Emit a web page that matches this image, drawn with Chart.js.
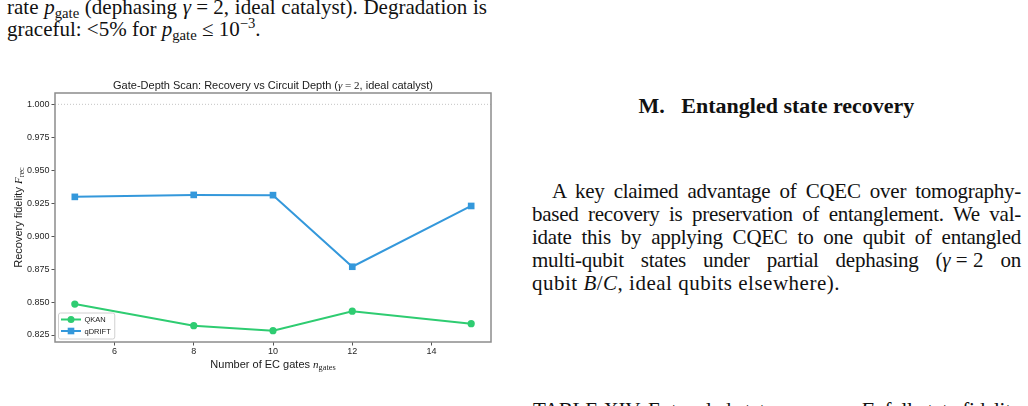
<!DOCTYPE html>
<html>
<head>
<meta charset="utf-8">
<script src="https://cdn.jsdelivr.net/npm/chart.js@4.4.1/dist/chart.umd.min.js"></script>
<style>
  html, body { margin: 0; padding: 0; background: #fff; }
  body { width: 1028px; height: 406px; overflow: hidden; position: relative;
         font-family: "Liberation Serif", "DejaVu Serif", serif; color: #111; }
  .ln { position: absolute; font-size: 21px; line-height: 23px; white-space: nowrap; }
  .lc { line-height: 21px; }
  .just { text-align: justify; text-align-last: justify; white-space: normal; }
  .tight { letter-spacing: -0.25px; }
  .ln sub, .ln sup { font-size: 70%; line-height: 0; }
  .ln sub { vertical-align: -0.25em; }
  .ln sup { vertical-align: 0.55em; }
  .m { display: inline-block; white-space: nowrap; letter-spacing: 0; }
  .hd { font-size: 22px; font-weight: bold; text-align: center; }
  #chartBox { position: absolute; left: 0; top: 70px; width: 500px; height: 310px; }
</style>
</head>
<body>

<!-- left column text above the figure -->
<div class="ln lc just" style="left:7px; top:-3px; width:480px;">rate <i>p</i><sub>gate</sub> (dephasing <span class="m"><i>γ</i> = 2,</span> ideal catalyst). Degradation is</div>
<div class="ln lc" style="left:7px; top:19px;">graceful: &lt;5% for <i>p</i><sub>gate</sub> ≤ 10<sup>−3</sup>.</div>

<!-- right column -->
<div class="ln hd" style="left:532px; top:94px; width:489px;">M.&nbsp;&nbsp;&nbsp;Entangled state recovery</div>
<div class="ln just tight" style="left:552px; top:179.5px; width:469px;">A key claimed advantage of CQEC over tomography-</div>
<div class="ln just tight" style="left:532px; top:203px; width:489px;">based recovery is preservation of entanglement. We val-</div>
<div class="ln just tight" style="left:532px; top:226px; width:489px;">idate this by applying CQEC to one qubit of entangled</div>
<div class="ln just tight" style="left:532px; top:249px; width:489px;">multi-qubit states under partial dephasing (<span class="m"><i>γ</i> = 2</span> on</div>
<div class="ln" style="left:532px; top:272px; letter-spacing:0.5px;">qubit <i>B</i>/<i>C</i>, ideal qubits elsewhere).</div>
<div class="ln just tight" style="left:533px; top:399px; width:488px;">TABLE XIV. Entangled state recovery. <i>F</i>: full-state fidelity</div>

<div id="chartBox"><canvas id="gateChart" width="500" height="310"></canvas></div>

<script>
// gate-depth scan values
const nGates = [5, 8, 10, 12, 15];
const qkanFid = [0.8485, 0.8321, 0.8283, 0.8431, 0.8336];
const qdriftFid = [0.9298, 0.9313, 0.9311, 0.8768, 0.9229];

const xTicks = [6, 8, 10, 12, 14];
const yTicks = [0.825, 0.850, 0.875, 0.900, 0.925, 0.950, 0.975, 1.000];
const xRange = [4.5, 15.5];
const yRange = [0.8197, 1.0086];
const refLevel = 1.0;

const seriesNames = ['QKAN', 'qDRIFT'];
const seriesColors = ['#2ecc71', '#3498db'];

const SANS = '"Liberation Sans", Arial, sans-serif';
const SERIF = '"Liberation Serif", "DejaVu Serif", serif';

// draws text made of parts with different fonts (for the math bits)
function drawRich(ctx, parts, x, y, size) {
    const fontFor = (kind) => {
        if (kind === 'it') return `italic ${size}px ${SERIF}`;
        if (kind === 'rm') return `${size}px ${SERIF}`;
        if (kind === 'sub') return `${(size * 0.75).toFixed(1)}px ${SERIF}`;
        return `${size}px ${SANS}`;
    };
    let total = 0;
    parts.forEach(([t, k]) => { ctx.font = fontFor(k); total += ctx.measureText(t).width; });
    let cx = x - total / 2;
    ctx.textAlign = 'left';
    ctx.textBaseline = 'alphabetic';
    parts.forEach(([t, k]) => {
        ctx.font = fontFor(k);
        ctx.fillText(t, cx, k === 'sub' ? y + size * 0.22 : y);
        cx += ctx.measureText(t).width;
    });
}

const decorations = {
    id: 'decorations',
    afterDraw(chart) {
        const { ctx, chartArea: a } = chart;
        ctx.save();

        // frame on all four sides
        ctx.strokeStyle = '#8c8c8c';
        ctx.lineWidth = 1.5;
        ctx.strokeRect(a.left, a.top, a.right - a.left, a.bottom - a.top);

        ctx.fillStyle = '#1a1a1a';
        const midX = (a.left + a.right) / 2;
        drawRich(ctx, [['Gate-Depth Scan: Recovery vs Circuit Depth (', 's'], ['γ', 'it'], [' = 2', 'rm'], [', ideal catalyst)', 's']], midX, 19, 11);
        drawRich(ctx, [['Number of EC gates ', 's'], ['n', 'it'], ['gates', 'sub']], midX, 298, 11);

        ctx.save();
        ctx.translate(21.5, (a.top + a.bottom) / 2);
        ctx.rotate(-Math.PI / 2);
        drawRich(ctx, [['Recovery fidelity ', 's'], ['F', 'it'], ['rec', 'sub']], 0, 0, 11);
        ctx.restore();

        // legend, lower left inside the axes
        ctx.font = `7.5px ${SANS}`;
        const textW = Math.max(...seriesNames.map(n => ctx.measureText(n).width));
        const bx = a.left + 3.5, bw = 26 + textW + 4, bh = 26, by = a.bottom - 3 - bh;
        ctx.fillStyle = 'rgba(255,255,255,0.85)';
        ctx.strokeStyle = '#d0d0d0';
        ctx.lineWidth = 1;
        ctx.beginPath();
        ctx.roundRect(bx, by, bw, bh, 2);
        ctx.fill();
        ctx.stroke();

        seriesNames.forEach((name, i) => {
            const ry = by + 6.5 + i * 11.5;
            ctx.strokeStyle = seriesColors[i];
            ctx.lineWidth = 2;
            ctx.beginPath();
            ctx.moveTo(bx + 2.5, ry);
            ctx.lineTo(bx + 22.5, ry);
            ctx.stroke();
            ctx.fillStyle = seriesColors[i];
            if (i === 0) {
                ctx.beginPath();
                ctx.arc(bx + 12.5, ry, 3.5, 0, Math.PI * 2);
                ctx.fill();
            } else {
                ctx.fillRect(bx + 12.5 - 3.3, ry - 3.3, 6.6, 6.6);
            }
            ctx.fillStyle = '#1a1a1a';
            ctx.textBaseline = 'middle';
            ctx.fillText(name, bx + 26, ry + 0.5);
        });

        ctx.restore();
    }
};

const toPoints = (ys) => nGates.map((x, i) => ({ x: x, y: ys[i] }));

new Chart(document.getElementById('gateChart'), {
    type: 'line',
    data: {
        datasets: [
            {
                label: 'ref',
                data: xRange.map(x => ({ x: x, y: refLevel })),
                borderColor: '#c4c4c4',
                borderWidth: 1,
                borderDash: [1, 2],
                pointRadius: 0,
            },
            {
                label: seriesNames[0],
                data: toPoints(qkanFid),
                borderColor: seriesColors[0],
                backgroundColor: seriesColors[0],
                borderWidth: 2,
                pointStyle: 'circle',
                pointRadius: 3.6,
                pointBorderWidth: 0,
            },
            {
                label: seriesNames[1],
                data: toPoints(qdriftFid),
                borderColor: seriesColors[1],
                backgroundColor: seriesColors[1],
                borderWidth: 2,
                pointStyle: 'rect',
                pointRadius: 4.7,
                pointBorderWidth: 0,
            },
        ]
    },
    options: {
        responsive: false,
        animation: false,
        devicePixelRatio: 1,
        layout: { padding: { top: 23, right: 9, left: 0, bottom: 0 } },
        plugins: { legend: { display: false }, tooltip: { enabled: false }, title: { display: false } },
        scales: {
            x: {
                type: 'linear',
                min: xRange[0],
                max: xRange[1],
                afterBuildTicks: (s) => { s.ticks = xTicks.map(v => ({ value: v })); },
                afterFit: (s) => { s.height = 38; },
                border: { display: false },
                grid: { drawOnChartArea: false, tickLength: 3.5, tickColor: '#555', tickWidth: 1 },
                ticks: { color: '#262626', font: { family: SANS, size: 9 }, padding: 1, maxRotation: 0,
                         callback: (v) => String(v) },
            },
            y: {
                type: 'linear',
                min: yRange[0],
                max: yRange[1],
                afterBuildTicks: (s) => { s.ticks = yTicks.map(v => ({ value: v })); },
                afterFit: (s) => { s.width = 55; },
                border: { display: false },
                grid: { drawOnChartArea: false, tickLength: 3.5, tickColor: '#555', tickWidth: 1 },
                ticks: { color: '#262626', font: { family: SANS, size: 9 }, padding: 2,
                         callback: (v) => v.toFixed(3) },
            }
        }
    },
    plugins: [decorations]
});
</script>
</body>
</html>
